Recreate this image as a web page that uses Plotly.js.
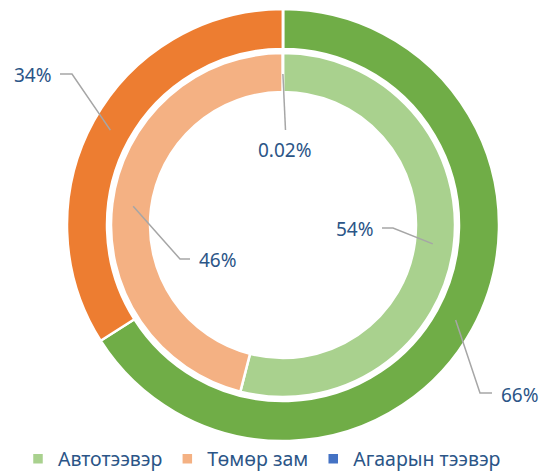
<!DOCTYPE html>
<html>
<head>
<meta charset="utf-8">
<script src="https://cdn.plot.ly/plotly-3.0.1.min.js"></script>
<style>
  html, body { margin: 0; padding: 0; background: #ffffff; }
  #chart { width: 543px; height: 472px; }
</style>
</head>
<body>
<div id="chart"></div>
<script>
// ---- data ----
var categories = ["Автотээвэр", "Төмөр зам", "Агаарын тээвэр"];
var innerValues = [54, 46, 0.02];   // inner ring (%)
var outerValues = [66, 34, 0];      // outer ring (%)

// ---- styles ----
var innerColors = ["#A9D18E", "#F4B183", "#4472C4"];
var outerColors = ["#70AD47", "#ED7D31", "#4472C4"];
var W = 543, H = 472;
var CX = 283, CY = 225;
var OUTER_R = 216, OUTER_HOLE_R = 176;
var INNER_R = 172, INNER_HOLE_R = 133;
var LABEL_COLOR = "#2B5587";
var LINE_COLOR = "#A6A6A6";
var FONT = "Noto Sans, Open Sans, sans-serif";

function px2x(px) { return px / W; }
function py2y(py) { return 1 - py / H; }

// label layout (pixel positions for elbow / line end / text), per ring & slice
var outerLabelLayout = [
  {elbow: [480, 393], end: [492, 393], text: [499, 395], anchor: "left"},
  {elbow: [72, 74], end: [60, 74], text: [54, 75], anchor: "right"},
  null
];
var innerLabelLayout = [
  {elbow: [393, 228], end: [382, 228], text: [376, 229], anchor: "right"},
  {elbow: [180, 259], end: [190, 259], text: [197, 260], anchor: "left"},
  {elbow: null, end: [285.5, 130], text: [285, 150], anchor: "center"}
];

function midAngles(vals) {
  var tot = vals.reduce(function (a, b) { return a + b; }, 0);
  var acc = 0, out = [];
  vals.forEach(function (v) {
    out.push((acc + v / 2) / tot * 2 * Math.PI);
    acc += v;
  });
  return out;
}

var shapes = [], annotations = [];
function addLabels(vals, layoutArr, rMid) {
  var ang = midAngles(vals);
  vals.forEach(function (v, i) {
    var L = layoutArr[i];
    if (!L || v <= 0) return;
    var ax = CX + rMid * Math.sin(ang[i]);
    var ay = CY - rMid * Math.cos(ang[i]);
    var pts = [[ax, ay]];
    if (L.elbow) pts.push(L.elbow);
    pts.push(L.end);
    var path = pts.map(function (p, k) {
      return (k === 0 ? "M" : "L") + px2x(p[0]).toFixed(5) + "," + py2y(p[1]).toFixed(5);
    }).join(" ");
    shapes.push({type: "path", xref: "paper", yref: "paper", path: path,
                 line: {color: LINE_COLOR, width: 1.5}});
    annotations.push({xref: "paper", yref: "paper", x: px2x(L.text[0]), y: py2y(L.text[1]),
      xanchor: L.anchor, yanchor: "middle", showarrow: false,
      text: (v < 1 ? v.toFixed(2) : Math.round(v)) + "%",
      font: {family: FONT, size: 19, color: LABEL_COLOR}});
  });
}
addLabels(outerValues, outerLabelLayout, 197);
addLabels(innerValues, innerLabelLayout, 151);

var inner = {
  type: "pie", labels: categories, values: innerValues, sort: false,
  direction: "clockwise", rotation: 0, hole: INNER_HOLE_R / INNER_R,
  textinfo: "none", hoverinfo: "label+percent",
  marker: {colors: innerColors, line: {color: "#ffffff", width: 2.5}},
  domain: {x: [px2x(CX - INNER_R), px2x(CX + INNER_R)], y: [py2y(CY + INNER_R), py2y(CY - INNER_R)]}
};
var outer = {
  type: "pie", labels: categories, values: outerValues, sort: false,
  direction: "clockwise", rotation: 0, hole: OUTER_HOLE_R / OUTER_R,
  textinfo: "none", hoverinfo: "label+percent",
  marker: {colors: outerColors, line: {color: "#ffffff", width: 2.5}},
  domain: {x: [px2x(CX - OUTER_R), px2x(CX + OUTER_R)], y: [py2y(CY + OUTER_R), py2y(CY - OUTER_R)]}
};

var layout = {
  width: W, height: H,
  margin: {l: 0, r: 0, t: 0, b: 0, autoexpand: false},
  paper_bgcolor: "#ffffff",
  showlegend: true,
  legend: {orientation: "h", x: px2x(18), xanchor: "left", y: py2y(459), yanchor: "middle",
           font: {family: FONT, size: 19.5, color: LABEL_COLOR}, traceorder: "normal"},
  shapes: shapes,
  annotations: annotations
};

Plotly.newPlot("chart", [inner, outer], layout, {displayModeBar: false, staticPlot: true});
</script>
</body>
</html>
